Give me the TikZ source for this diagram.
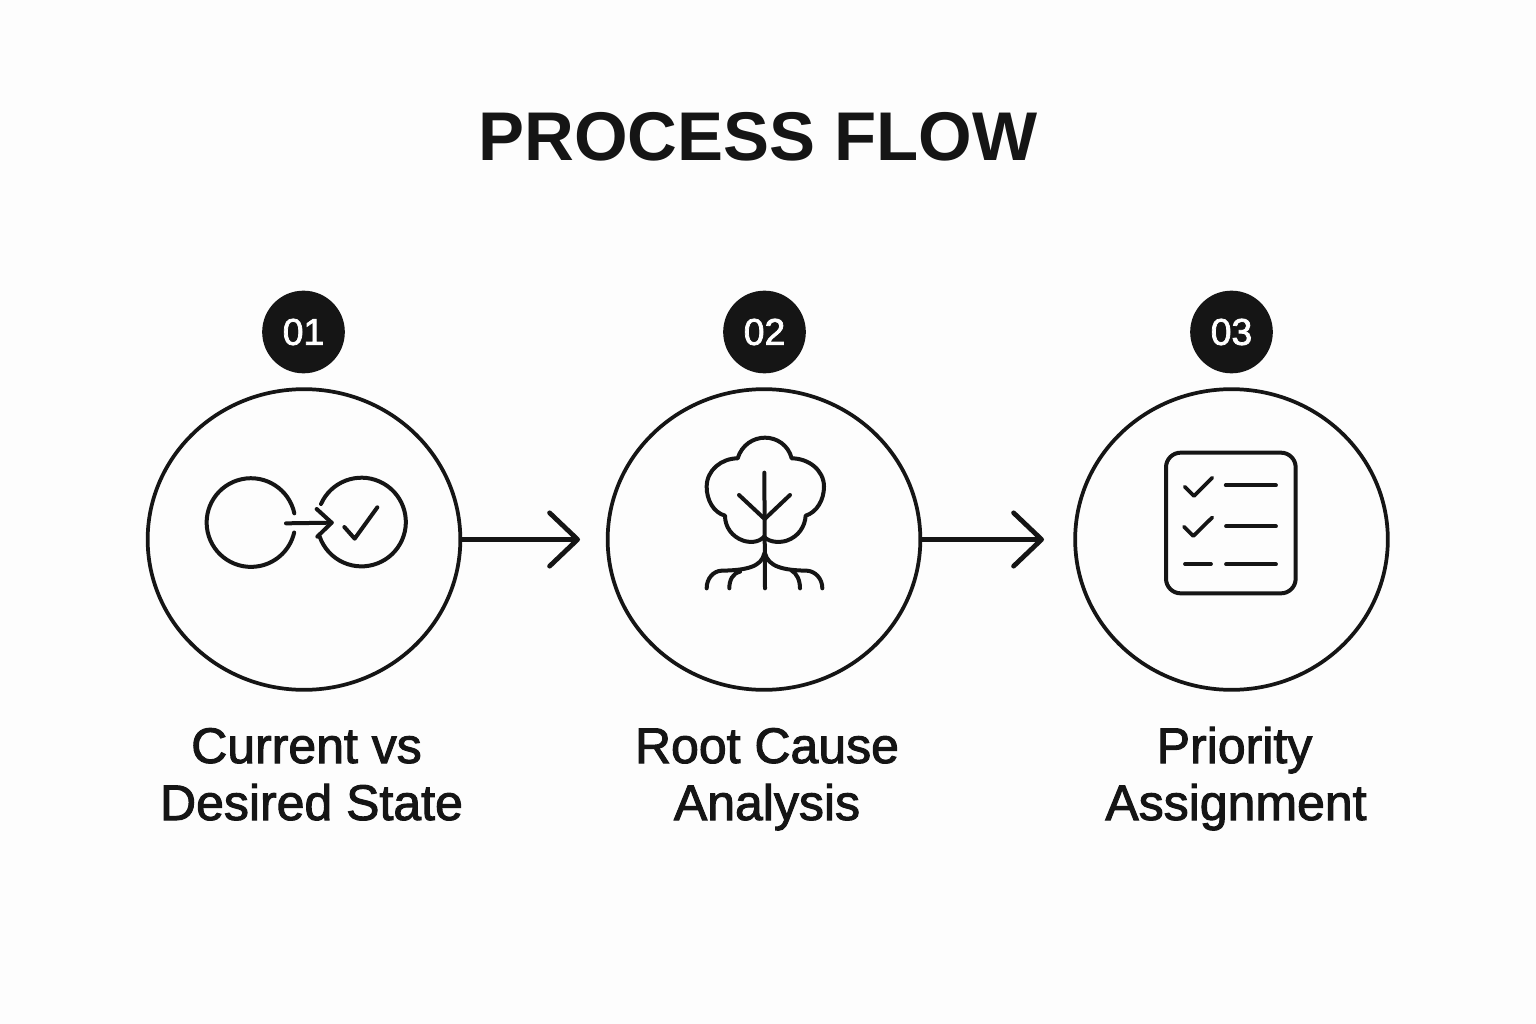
\documentclass[tikz,border=0pt]{standalone}
\usepackage{fontspec}
\setmainfont{Liberation Sans}
\newfontfamily\labelfont[FakeBold=2]{Liberation Sans}
\usetikzlibrary{arrows.meta,shapes.geometric}
\definecolor{ink}{HTML}{151515}
\definecolor{paper}{HTML}{FDFDFD}
\tikzset{
  big/.style={draw=ink,line width=2.8pt,shape=ellipse,minimum width=234.5pt,minimum height=225.5pt,inner sep=0pt},
  badge/.style={fill=ink,text=white,shape=circle,minimum size=62pt,inner sep=0pt,font=\fontsize{28}{30}\selectfont\labelfont},
  title/.style={text=ink,anchor=base,inner sep=0pt,font=\fontsize{51.7}{60}\selectfont\bfseries},
  lab/.style={text=ink,anchor=base,inner sep=0pt,font=\fontsize{37.5}{40}\selectfont\labelfont},
  flow/.style={draw=ink,line width=3.3pt,line cap=round,-{Straight Barb[round,length=21pt,width=40pt,line width=3.6pt]}},
  icon/.style={draw=ink,line width=3pt,line cap=round,line join=round},
  iconthin/.style={draw=ink,line width=2.8pt,line cap=round,line join=round}
}
\begin{document}
\begin{tikzpicture}[x=0.75pt,y=-0.75pt]
\useasboundingbox[fill=paper] (0,0) rectangle (1536,1024);
\node[title] (t) at (758,161) {PROCESS FLOW};
\node[big] (c1) at (304,539.5) {};
\node[big] (c2) at (764,539.5) {};
\node[big] (c3) at (1231.5,539.5) {};
\node[badge] (b1) at (303.5,332) {01};
\node[badge] (b2) at (764.5,332) {02};
\node[badge] (b3) at (1231.5,332) {03};
\coordinate (e1) at (580,539.5);
\coordinate (e2) at (1044,539.5);
\draw[flow] (c1.east) -- (e1);
\draw[flow] (c2.east) -- (e2);
\node[lab] (l1a) at (306.5,763) {Current vs};
\node[lab] (l1b) at (311.5,820) {Desired State};
\node[lab] (l2a) at (767,763) {Root Cause};
\node[lab] (l2b) at (767,820) {Analysis};
\node[lab] (l3a) at (1234.5,763) {Priority};
\node[lab] (l3b) at (1236,820) {Assignment};
% icon 1
\begin{scope}[shift={(190,460)},x=0.25pt,y=-0.25pt]
\draw[icon] (313,160) arc[start angle=-12,end angle=-347,radius=133];
\draw[icon] (288,190) -- (425,188);
\draw[icon] (380,147) -- (425,188) -- (382,230);
\draw[icon] (393,132) arc[start angle=-156,end angle=161,radius=133];
\draw[icon] (463,201) -- (494,236) -- (562,142);
\end{scope}
% icon 2
\begin{scope}[shift={(690,425)},x=0.25pt,y=-0.25pt]
\draw[icon] (222,335) .. controls (205,355) and (175,352) .. (160,347)
  .. controls (125,335) and (105,305) .. (105,272)
  .. controls (70,262) and (50,225) .. (50,185)
  .. controls (50,135) and (95,100) .. (143,100)
  .. controls (155,60) and (190,38) .. (225,38)
  .. controls (260,38) and (295,60) .. (305,100)
  .. controls (355,100) and (402,135) .. (402,185)
  .. controls (402,225) and (380,262) .. (347,272)
  .. controls (345,305) and (325,335) .. (290,347)
  .. controls (275,352) and (240,355) .. (222,335);
\draw[icon] (223,143) -- (225,490);
\draw[icon] (147,210) -- (224,282) -- (300,210);
\draw[icon] (223,385) .. controls (215,425) and (170,436) .. (95,437)
  .. controls (70,438) and (50,460) .. (50,490);
\draw[icon] (118,490) .. controls (118,465) and (128,445) .. (150,440);
\draw[icon] (225,385) .. controls (235,425) and (280,436) .. (350,437)
  .. controls (375,438) and (397,460) .. (397,490);
\draw[icon] (330,490) .. controls (330,465) and (320,445) .. (305,437);
\end{scope}
% icon 3
\begin{scope}[shift={(1150,440)},x=0.25pt,y=-0.25pt]
\draw[icon,rounded corners=11pt] (48,38) rectangle (437,460);
\draw[iconthin] (104,140) -- (132,168) -- (187,113);
\draw[iconthin] (102,260) -- (130,288) -- (187,232);
\draw[iconthin] (105,372) -- (183,372);
\draw[iconthin] (227,136) -- (378,136);
\draw[iconthin] (228,259) -- (378,259);
\draw[iconthin] (228,373) -- (378,373);
\end{scope}
\end{tikzpicture}
\end{document}
